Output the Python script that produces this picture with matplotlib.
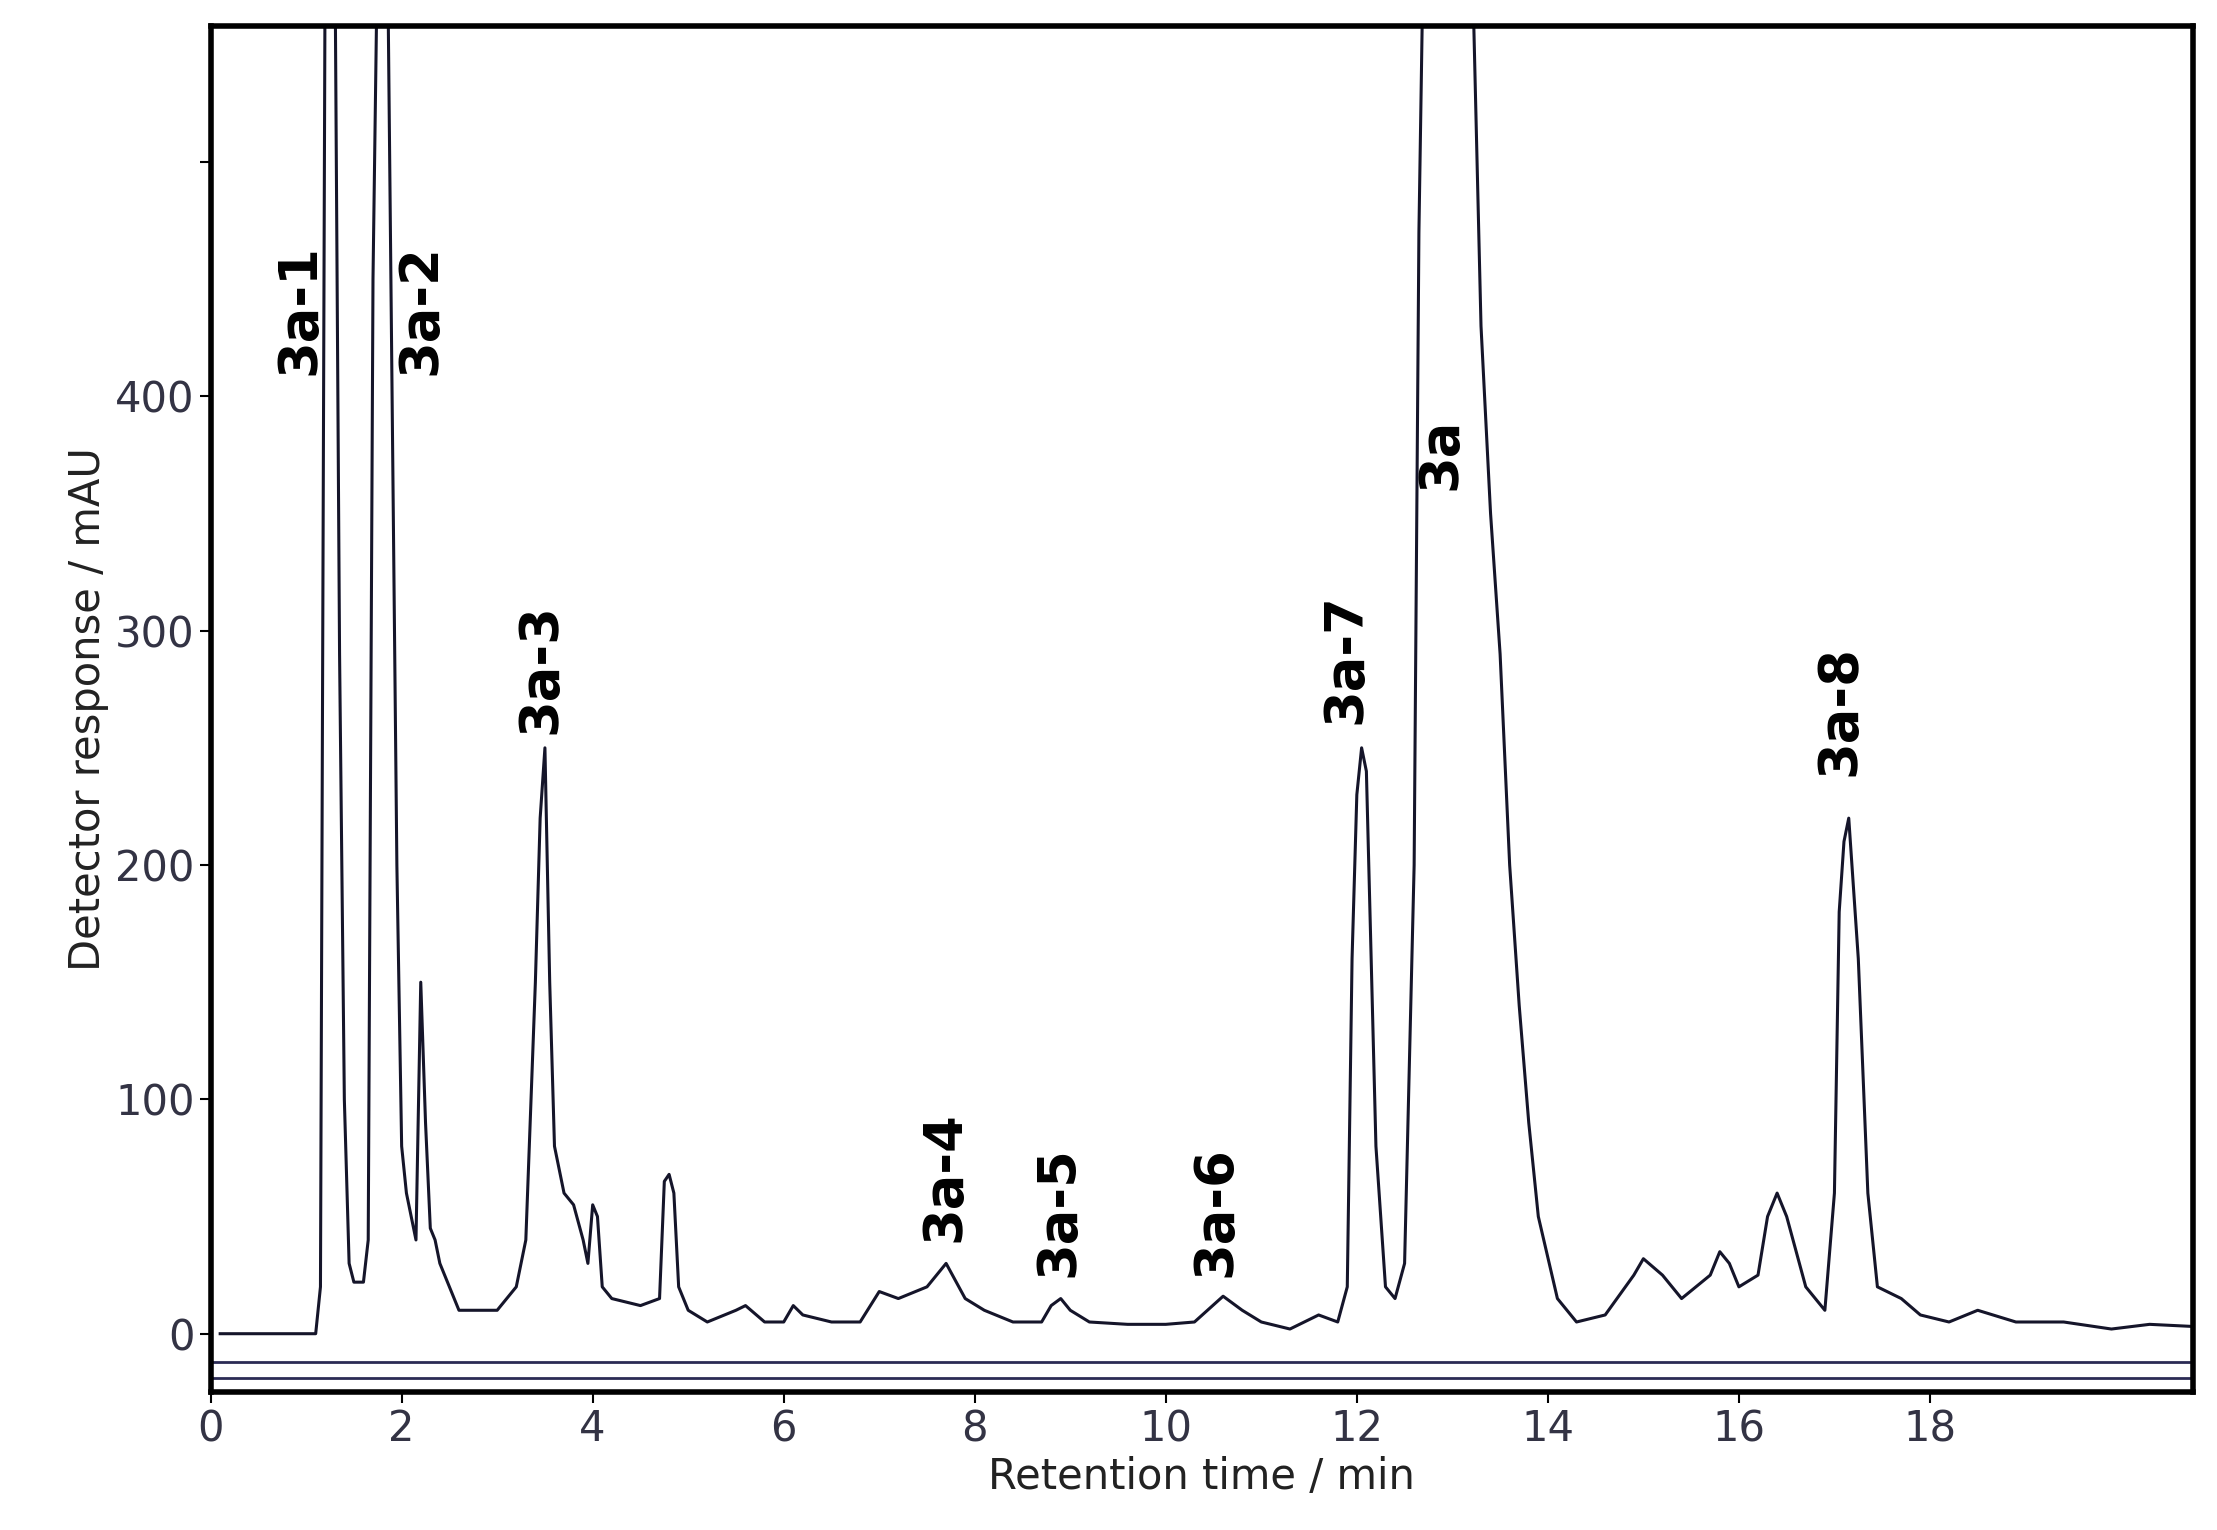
import matplotlib
matplotlib.use("Agg")
import matplotlib.pyplot as plt

# chromatogram trace (time in min, response in mAU)
time_min = [0.1, 1.1, 1.15, 1.2, 1.3, 1.35, 1.4, 1.45, 1.5, 1.6, 1.65, 1.7, 1.75, 1.85, 1.9, 1.95,
            2.0, 2.05, 2.1, 2.15, 2.2, 2.25, 2.3, 2.35, 2.4, 2.5, 2.6, 2.8, 3.0, 3.2, 3.3, 3.4,
            3.45, 3.5, 3.55, 3.6, 3.7, 3.8, 3.9, 3.95, 4.0, 4.05, 4.1, 4.2, 4.5, 4.7, 4.75, 4.8,
            4.85, 4.9, 5.0, 5.2, 5.5, 5.6, 5.8, 6.0, 6.1, 6.2, 6.5, 6.8, 7.0, 7.2, 7.5, 7.7,
            7.9, 8.1, 8.4, 8.7, 8.8, 8.9, 9.0, 9.2, 9.6, 10.0, 10.3, 10.6, 10.8, 11.0, 11.3, 11.6,
            11.8, 11.9, 11.95, 12.0, 12.05, 12.1, 12.2, 12.3, 12.4, 12.5, 12.6, 12.65, 12.7, 13.2,
            13.3, 13.4, 13.5, 13.6, 13.7, 13.8, 13.9, 14.1, 14.3, 14.6, 14.9, 15.0, 15.2, 15.4,
            15.7, 15.8, 15.9, 16.0, 16.2, 16.3, 16.4, 16.5, 16.7, 16.9, 17.0, 17.05, 17.1, 17.15,
            17.25, 17.35, 17.45, 17.7, 17.9, 18.2, 18.5, 18.9, 19.4, 19.9, 20.3, 20.8]
response = [0, 0, 20, 600, 600, 290, 100, 30, 22, 22, 40, 450, 600, 600, 400, 200,
            80, 60, 50, 40, 150, 90, 45, 40, 30, 20, 10, 10, 10, 20, 40, 150,
            220, 250, 150, 80, 60, 55, 40, 30, 55, 50, 20, 15, 12, 15, 65, 68,
            60, 20, 10, 5, 10, 12, 5, 5, 12, 8, 5, 5, 18, 15, 20, 30,
            15, 10, 5, 5, 12, 15, 10, 5, 4, 4, 5, 16, 10, 5, 2, 8,
            5, 20, 160, 230, 250, 240, 80, 20, 15, 30, 200, 470, 600, 600,
            430, 350, 290, 200, 140, 90, 50, 15, 5, 8, 25, 32, 25, 15,
            25, 35, 30, 20, 25, 50, 60, 50, 20, 10, 60, 180, 210, 220,
            160, 60, 20, 15, 8, 5, 10, 5, 5, 2, 4, 3]

# peak labels: text, time, response at label base
peak_names = ["3a-1", "3a-2", "3a-3", "3a-4", "3a-5", "3a-6", "3a-7", "3a", "3a-8"]
peak_t = [0.93, 2.2, 3.45, 7.68, 8.88, 10.52, 11.88, 12.88, 17.05]
peak_y = [409, 409, 256, 39, 24, 24, 260, 360, 238]

fig = plt.figure(figsize=(22.17, 15.3), dpi=100)
ax = fig.add_axes([0.095, 0.09, 0.894, 0.893])
ax.plot(time_min, response, color="#15152a", linewidth=2.2)
ax.axhline(-12, color="#2b2b55", linewidth=2)
ax.axhline(-19, color="#2b2b55", linewidth=2)

for name, t, y in zip(peak_names, peak_t, peak_y):
    ax.text(t, y, name, rotation=90, ha="center", va="bottom",
            fontsize=38, fontweight="bold", color="black")

ax.set_xlim(0, 20.75)
ax.set_ylim(-25, 558)
ax.set_xticks(range(0, 20, 2))
ax.set_yticks([0, 100, 200, 300, 400, 500])
ax.set_yticklabels(["0", "100", "200", "300", "400", ""])
ax.tick_params(labelsize=30, labelcolor="#333344", length=8, width=1.5)
ax.set_xlabel("Retention time / min", fontsize=30, color="#222")
ax.set_ylabel("Detector response / mAU", fontsize=30, color="#222")
for s in ax.spines.values():
    s.set_linewidth(4)

fig.savefig("out.png")
